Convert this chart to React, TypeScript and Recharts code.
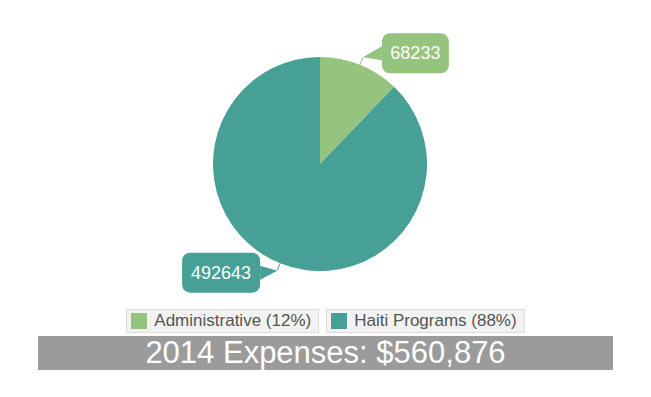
import { PieChart, Pie, Cell, Legend } from 'recharts'

const categories = ['Administrative', 'Haiti Programs']
const amounts = [68233, 492643]
const colors = ['#94C47D', '#46A096']
const title = '2014 Expenses: $560,876'

const total = amounts.reduce((a, b) => a + b, 0)
const data = categories.map((name, i) => ({
  name,
  value: amounts[i],
  pct: Math.round((amounts[i] / total) * 100),
}))

const RAD = Math.PI / 180

function CalloutLabel(props: any) {
  const { cx, cy, midAngle, outerRadius, value, index } = props
  const cos = Math.cos(-midAngle * RAD)
  const sin = Math.sin(-midAngle * RAD)
  const sx = cx + outerRadius * cos
  const sy = cy + outerRadius * sin
  const tx = cx + (outerRadius + 8) * cos
  const ty = cy + (outerRadius + 8) * sin
  const text = String(value)
  const w = text.length * 11 + 12
  const h = 40
  const right = cos >= 0
  const bx = right ? tx + 19 : tx - 17 - w
  const by = ty - h / 2 - (right ? 4 : -2)
  const edgeX = right ? bx : bx + w
  const midY = by + h / 2
  const fill = colors[index]
  return (
    <g>
      <line x1={sx} y1={sy} x2={tx} y2={ty} stroke={fill} strokeWidth={1} />
      <path
        d={`M${edgeX},${midY - 7} L${tx},${ty} L${edgeX},${midY + 7} Z`}
        fill={fill}
      />
      <rect x={bx} y={by} width={w} height={h} rx={8} ry={8} fill={fill} />
      <text
        x={bx + w / 2}
        y={midY}
        textAnchor="middle"
        dominantBaseline="central"
        fill="#fff"
        fontSize={18}
        fontFamily="Liberation Sans, Arial, sans-serif"
      >
        {text}
      </text>
    </g>
  )
}

function LegendBoxes() {
  return (
    <div style={{ display: 'flex', justifyContent: 'center', gap: 7 }}>
      {data.map((d, i) => (
        <div
          key={d.name}
          style={{
            display: 'flex',
            alignItems: 'center',
            background: '#F2F2F2',
            border: '1px solid #DDDDDD',
            height: 22,
            padding: '0 7px 0 4px',
            fontSize: 17,
            color: '#555',
            fontFamily: 'Liberation Sans, Arial, sans-serif',
          }}
        >
          <span
            style={{
              width: 16,
              height: 16,
              background: colors[i],
              marginRight: 7,
              display: 'inline-block',
            }}
          />
          {`${d.name} (${d.pct}%)`}
        </div>
      ))}
    </div>
  )
}

export default function App() {
  return (
    <div style={{ position: 'relative', width: 635, height: 381 }}>
      <PieChart width={635} height={326}>
        <Pie
          data={data}
          dataKey="value"
          nameKey="name"
          cx={307}
          cy={151}
          outerRadius={107}
          startAngle={90}
          endAngle={-270}
          stroke="none"
          label={CalloutLabel}
          labelLine={false}
          isAnimationActive={false}
        >
          {data.map((d, i) => (
            <Cell key={d.name} fill={colors[i]} />
          ))}
        </Pie>
        <Legend
          content={<LegendBoxes />}
          wrapperStyle={{ top: 301, left: 0, width: 635 }}
        />
      </PieChart>
      <div
        style={{
          position: 'absolute',
          left: 30,
          top: 328,
          width: 575,
          height: 34,
          background: '#9B9B9B',
          color: '#fff',
          fontSize: 31,
          lineHeight: '34px',
          textAlign: 'center',
          fontFamily: 'Liberation Sans, Arial, sans-serif',
        }}
      >
        {title}
      </div>
    </div>
  )
}
